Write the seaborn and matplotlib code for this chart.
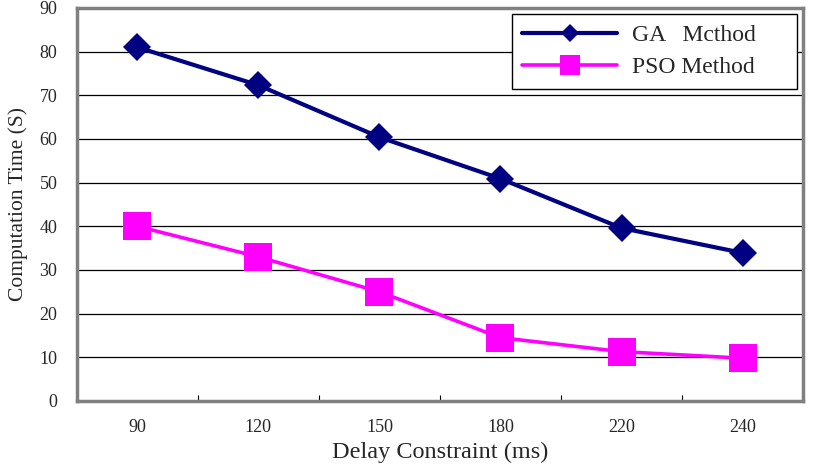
import matplotlib
matplotlib.use("Agg")
import matplotlib.pyplot as plt
import seaborn as sns
import pandas as pd
import numpy as np
from matplotlib.ticker import FixedLocator

categories = ["90", "120", "150", "180", "220", "240"]
ga_values = [81, 72.3, 60.4, 50.9, 39.6, 33.9]
pso_values = [40, 33, 25, 14.5, 11.3, 9.8]
series_names = ["GA   Mcthod", "PSO Method"]
y_ticks = [0, 10, 20, 30, 40, 50, 60, 70, 80, 90]

sns.set_theme(style="white")
plt.rcParams['font.family'] = ['Liberation Serif', 'DejaVu Serif']

df = pd.DataFrame({
    "delay": categories * 2,
    "time": ga_values + pso_values,
    "method": [series_names[0]] * len(categories) + [series_names[1]] * len(categories),
})

fig = plt.figure(figsize=(8.17, 4.66), dpi=100)
ax = fig.add_axes([0.094, 0.1395, 0.889, 0.8435])

palette = {series_names[0]: "#000080", series_names[1]: "#FF00FF"}
sns.lineplot(data=df[df.method == series_names[0]], x="delay", y="time", hue="method",
             palette=palette, marker="D", markersize=14, linewidth=3.0,
             markeredgewidth=0, ax=ax, sort=False)
sns.lineplot(data=df[df.method == series_names[1]], x="delay", y="time", hue="method",
             palette=palette, marker="s", markersize=19.5, linewidth=2.6,
             markeredgewidth=0, ax=ax, sort=False)

ax.set_xlim(-0.5, len(categories) - 0.5)
ax.set_ylim(0, 90)
ax.set_yticks(y_ticks)
ax.set_yticklabels([str(t) for t in y_ticks], fontsize=13)
ax.set_xticks(range(len(categories)))
ax.set_xticklabels(categories, fontsize=13)
ax.xaxis.set_minor_locator(FixedLocator(np.arange(0.5, len(categories) - 0.5, 1.0)))
ax.tick_params(axis="x", which="major", length=0, pad=13)
ax.tick_params(axis="x", which="minor", length=4, direction="in", width=0.8, color="black", bottom=True)
ax.tick_params(axis="y", length=0, pad=14)

for t in y_ticks[1:-1]:
    ax.axhline(t, color="black", linewidth=0.9, zorder=0.5)

for s in ax.spines.values():
    s.set_visible(True)
    s.set_color("#808080")
    s.set_linewidth(2.5)

ax.set_xlabel("Delay Constraint (ms)", fontsize=17.5, labelpad=4)
ax.set_ylabel("Computation Time (S)", fontsize=15.5, labelpad=8)

leg = ax.legend(loc="upper right", bbox_to_anchor=(0.599, 0.8015, 0.3927, 0.1835),
                mode="expand", fontsize=17,
                frameon=True, fancybox=False, edgecolor="black", framealpha=1,
                handlelength=4.0, handletextpad=0.65, borderpad=0.45, labelspacing=0.45,
                borderaxespad=0)
leg.get_frame().set_linewidth(1.0)
for h, ms in zip(leg.legend_handles, [9.5, 14]):
    h.set_markersize(ms)

fig.savefig("out.png", dpi=100, facecolor="white")
